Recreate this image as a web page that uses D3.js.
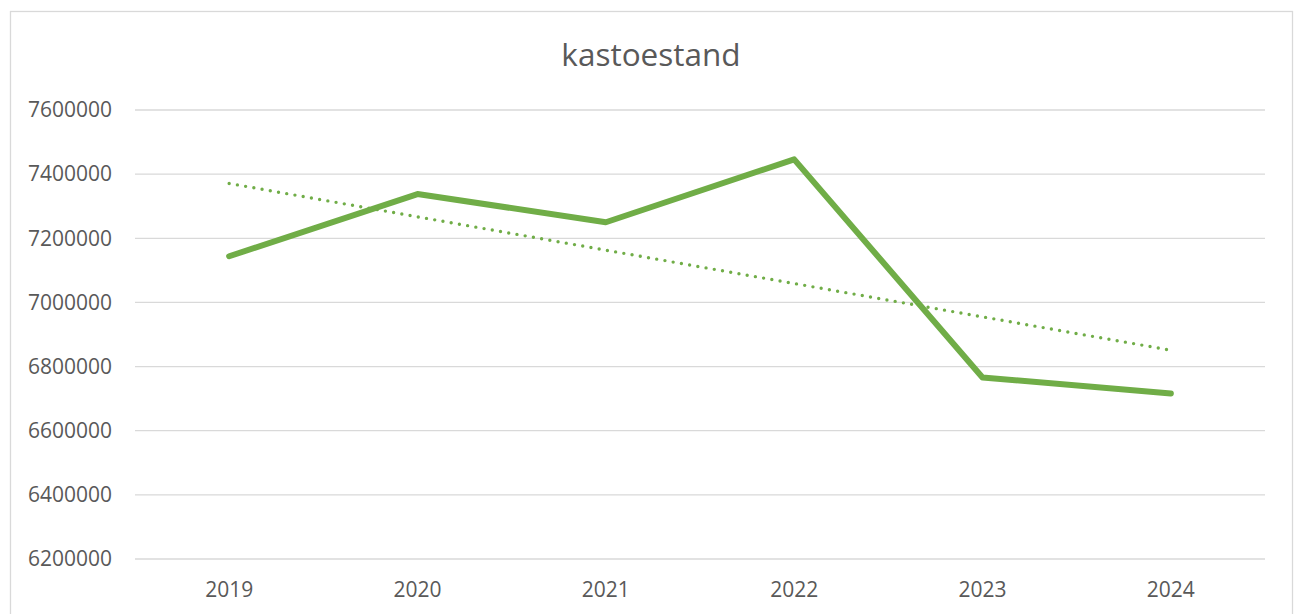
<!DOCTYPE html>
<html>
<head>
<meta charset="utf-8">
<script src="https://cdn.jsdelivr.net/npm/d3@7"></script>
<style>
  html, body { margin: 0; padding: 0; background: #fff; }
  svg { display: block; }
  text { font-family: "Open Sans", "Noto Sans", sans-serif; fill: #595959; }
</style>
</head>
<body>
<div id="chart"></div>
<script>
const title = "kastoestand";
const years = ["2019", "2020", "2021", "2022", "2023", "2024"];
const values = [7144000, 7338000, 7250000, 7446000, 6766000, 6716000];
// linear trendline end points (first and last category)
const trendYears = ["2019", "2024"];
const trendValues = [7371000, 6851000];
const yTicks = [6200000, 6400000, 6600000, 6800000, 7000000, 7200000, 7400000, 7600000];

const W = 1300, H = 614;
const svg = d3.select("#chart").append("svg").attr("width", W).attr("height", H);

// outer chart border
svg.append("rect")
  .attr("x", 10.5).attr("y", 11.5).attr("width", 1282).attr("height", 640)
  .attr("fill", "#fff").attr("stroke", "#D9D9D9").attr("stroke-width", 1.3);

const plot = { left: 135, right: 1265, top: 110, bottom: 559 };

const x = d3.scaleBand().domain(years).range([plot.left, plot.right]);
const y = d3.scaleLinear().domain([6200000, 7600000]).range([plot.bottom, plot.top]);
const cx = d => x(d) + x.bandwidth() / 2;

// gridlines
svg.append("g").selectAll("line").data(yTicks).join("line")
  .attr("x1", plot.left).attr("x2", plot.right)
  .attr("y1", d => y(d)).attr("y2", d => y(d))
  .attr("stroke", "#D9D9D9").attr("stroke-width", 1.3);

// y axis labels
const yAxis = d3.axisLeft(y).tickValues(yTicks).tickFormat(d3.format("d")).tickSize(0).tickPadding(23);
const gy = svg.append("g").attr("transform", `translate(${plot.left},0)`).call(yAxis);
gy.select(".domain").remove();
gy.selectAll("text").attr("font-size", 21).style("font-family", "'Open Sans', sans-serif").attr("fill", "#595959");

// x axis labels
const xAxis = d3.axisBottom(x).tickSize(0).tickPadding(23);
const gx = svg.append("g").attr("transform", `translate(0,${plot.bottom})`).call(xAxis);
gx.select(".domain").remove();
gx.selectAll("text").attr("font-size", 21).style("font-family", "'Open Sans', sans-serif").attr("fill", "#595959");

// trendline (dotted)
const line = d3.line().x(d => cx(d[0])).y(d => y(d[1]));
svg.append("path")
  .datum(trendYears.map((yr, i) => [yr, trendValues[i]]))
  .attr("d", line)
  .attr("fill", "none")
  .attr("stroke", "#70AD47")
  .attr("stroke-width", 3.4)
  .attr("stroke-linecap", "round")
  .attr("stroke-dasharray", "0 8.35");

// data line
svg.append("path")
  .datum(years.map((yr, i) => [yr, values[i]]))
  .attr("d", line)
  .attr("fill", "none")
  .attr("stroke", "#70AD47")
  .attr("stroke-width", 6)
  .attr("stroke-linecap", "round")
  .attr("stroke-linejoin", "round");

// title
svg.append("text")
  .attr("x", 651)
  .attr("y", 66)
  .attr("text-anchor", "middle")
  .attr("font-size", 31.5)
  .text(title);
</script>
</body>
</html>
